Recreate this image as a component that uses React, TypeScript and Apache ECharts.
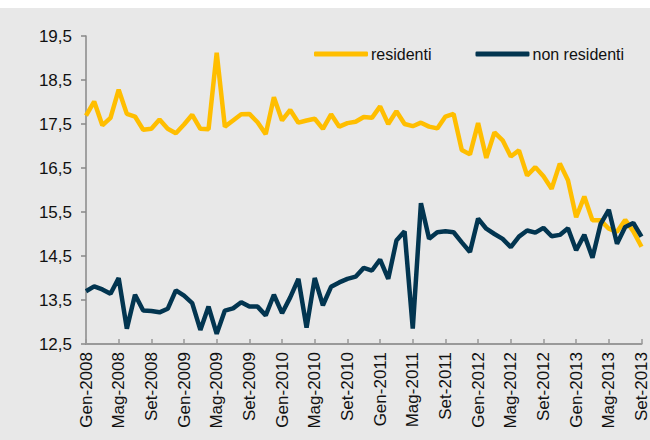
import React, { useEffect, useRef } from "react";
import * as echarts from "echarts";

const monthNames = ["Gen", "Feb", "Mar", "Apr", "Mag", "Giu", "Lug", "Ago", "Set", "Ott", "Nov", "Dic"];
const years = [2008, 2009, 2010, 2011, 2012, 2013];
const lastMonthIndex2013 = 8; // Set-2013

const categories: string[] = [];
for (const y of years) {
  for (let m = 0; m < 12; m++) {
    if (y === 2013 && m > lastMonthIndex2013) break;
    categories.push(`${monthNames[m]}-${y}`);
  }
}

const residenti = [
  17.69, 18.01, 17.47, 17.64, 18.28, 17.73, 17.67, 17.37, 17.39, 17.6, 17.39, 17.29,
  17.49, 17.71, 17.39, 17.38, 19.12, 17.44, 17.58, 17.72, 17.73, 17.54, 17.27, 18.11,
  17.58, 17.82, 17.53, 17.58, 17.62, 17.39, 17.72, 17.44, 17.52, 17.55, 17.66, 17.64,
  17.9, 17.5, 17.79, 17.5, 17.45, 17.53, 17.44, 17.4, 17.67, 17.73, 16.91, 16.81,
  17.52, 16.73, 17.31, 17.13, 16.76, 16.9, 16.33, 16.52, 16.31, 16.03, 16.6, 16.22,
  15.38, 15.85, 15.31, 15.31, 15.12, 15.05, 15.32, 15.06, 14.71,
];

const nonResidenti = [
  13.7, 13.81, 13.74, 13.64, 14.0, 12.85, 13.62, 13.26, 13.25, 13.22, 13.3, 13.72,
  13.6, 13.43, 12.82, 13.35, 12.73, 13.26, 13.31, 13.45, 13.35, 13.35, 13.15, 13.62,
  13.2, 13.56, 13.98, 12.87, 14.0, 13.38, 13.8, 13.9, 13.98, 14.03, 14.23, 14.17,
  14.42, 13.98, 14.85, 15.06, 12.85, 15.7, 14.89, 15.04, 15.06, 15.04, 14.81, 14.59,
  15.35, 15.12, 15.0, 14.89, 14.7, 14.94, 15.08, 15.03, 15.14, 14.95, 14.98, 15.13,
  14.63, 14.98, 14.46, 15.23, 15.55, 14.78, 15.16, 15.25, 14.94,
];

const seriesNames = ["residenti", "non residenti"];
const yMin = 12.5;
const yMax = 19.5;
const yStep = 1;

export default function App() {
  const ref = useRef<HTMLDivElement>(null);
  useEffect(() => {
    if (!ref.current) return;
    const chart = echarts.init(ref.current, null, { renderer: "svg" });
    const font = "Liberation Sans, Arial, sans-serif";
    chart.setOption({
      animation: false,
      backgroundColor: "#ffffff",
      graphic: [
        {
          type: "rect",
          silent: true,
          z: -10,
          shape: { x: 0, y: 8, width: 650, height: 432 },
          style: { fill: "#e8e8e8" },
        },
      ],
      grid: { left: 86, right: 3, top: 36, height: 308, containLabel: false },
      legend: {
        left: 309,
        top: 41,
        itemWidth: 54,
        itemHeight: 5,
        itemGap: 44,
        icon: "roundRect",
        textStyle: { fontFamily: font, fontSize: 16, color: "#111", padding: [0, 0, 0, -2] },
        data: seriesNames,
      },
      xAxis: {
        type: "category",
        data: categories,
        boundaryGap: false,
        axisLine: { lineStyle: { color: "#999999", width: 2 } },
        axisTick: { interval: 3, inside: true, length: 5, lineStyle: { color: "#999999", width: 1.5 } },
        axisLabel: {
          interval: 3,
          rotate: 90,
          margin: 8,
          fontFamily: font,
          fontSize: 17,
          color: "#111",
        },
        splitLine: { show: false },
      },
      yAxis: {
        type: "value",
        min: yMin,
        max: yMax,
        interval: yStep,
        axisLine: { show: true, lineStyle: { color: "#888888", width: 1.5 } },
        axisTick: { show: true, length: 5, lineStyle: { color: "#888888", width: 1.5 } },
        axisLabel: {
          margin: 14,
          fontFamily: font,
          fontSize: 17,
          color: "#111",
          formatter: (v: number) => v.toFixed(1).replace(".", ","),
        },
        splitLine: { show: false },
      },
      series: [
        {
          name: seriesNames[0],
          type: "line",
          data: residenti,
          showSymbol: false,
          symbol: "none",
          itemStyle: { color: "#FFBE00" },
          lineStyle: { color: "#FFBE00", width: 4.5 },
        },
        {
          name: seriesNames[1],
          type: "line",
          data: nonResidenti,
          showSymbol: false,
          symbol: "none",
          itemStyle: { color: "#023550" },
          lineStyle: { color: "#023550", width: 4.5 },
        },
      ],
    });
    return () => chart.dispose();
  }, []);
  return (
    <div
      ref={ref}
      style={{ position: "absolute", left: 0, top: 0, width: 650, height: 440 }}
    />
  );
}
